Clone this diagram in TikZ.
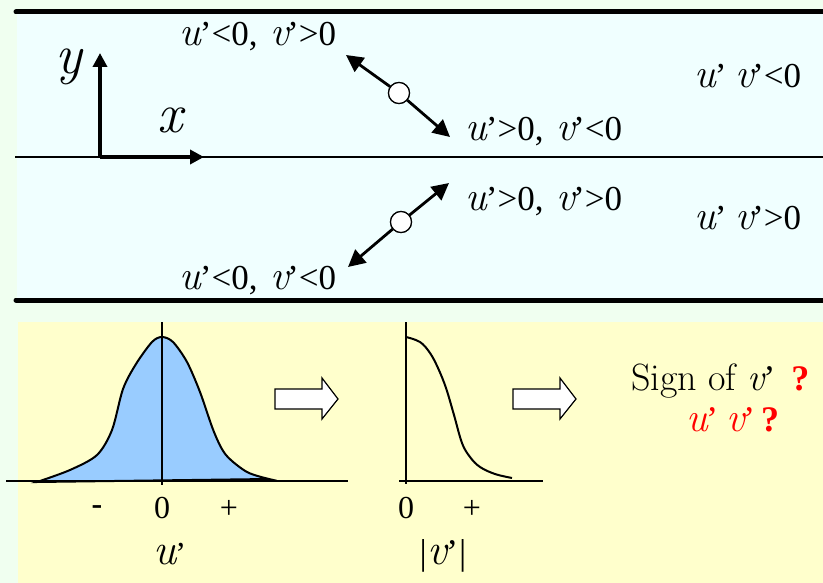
\documentclass[tikz,border=0pt]{standalone}
\usepackage{fontspec}
\newfontfamily\tms{Liberation Serif}
\usetikzlibrary{arrows.meta}
\definecolor{bggreen}{HTML}{F0FFF0}
\definecolor{bgcyan}{HTML}{F0FFFF}
\definecolor{bgyellow}{HTML}{FFFFCC}
\definecolor{bellblue}{HTML}{99CCFF}
\newcommand\wu[1][41]{{\fontsize{#1}{#1}\selectfont\normalfont\itshape u}\kern-1.5pt’}
\newcommand\wv[1][41]{{\fontsize{#1}{#1}\selectfont\normalfont\itshape v}\kern-1.5pt’}
\tikzset{
  lab/.style={font=\tms\fontsize{35}{38}\selectfont, inner sep=0pt, anchor=base},
  ticklab/.style={font=\tms\fontsize{32}{36}\selectfont, inner sep=0pt, anchor=base},
  axisarrow/.style={line width=3.5pt, -{Triangle[length=14pt,width=14pt]}},
  diagarrow/.style={line width=2.8pt, -{Triangle[length=17pt,width=17pt]}},
  particle/.style={circle, draw, fill=white, line width=1.2pt, minimum size=21pt, inner sep=0pt},
  wall/.style={line width=5pt, line cap=round},
  blockarrow/.style={draw, fill=white, line width=1.2pt, line join=miter},
}
\begin{document}
\begin{tikzpicture}[x=1pt,y=-1pt]
\useasboundingbox (0,0) rectangle (823,583);
\fill[bggreen] (0,0) rectangle (823,583);
\fill[bgcyan] (17,11) rectangle (823,301);
\fill[bgyellow] (18,322) rectangle (823,583);
% walls
\draw[wall] (16,12) -- (823,12);
\draw[wall] (16,300) -- (823,300);
\draw[line width=1.3pt] (15,157) -- (823,157);
% axes
\coordinate (O) at (100,157);
\coordinate (ytip) at (100,53);
\coordinate (xtip) at (204,157);
\draw[axisarrow] (O) -- (ytip);
\draw[axisarrow] (O) -- (xtip);
\node[font=\fontsize{56}{60}\selectfont\itshape, inner sep=0pt] (ylab) at (69,67) {y};
\node[font=\fontsize{56}{60}\selectfont\itshape, inner sep=0pt] (xlab) at (170,120) {x};
% upper particle
\node[particle] (p1) at (399,93) {};
\coordinate (p1a) at (346,55);
\coordinate (p1b) at (450,137);
\draw[diagarrow] (p1) -- (p1a);
\draw[diagarrow] (p1) -- (p1b);
\node[particle] at (p1) {};
% lower particle
\node[particle] (p2) at (401,222) {};
\coordinate (p2a) at (449,183);
\coordinate (p2b) at (348,267);
\draw[diagarrow] (p2) -- (p2a);
\draw[diagarrow] (p2) -- (p2b);
\node[particle] at (p2) {};
% labels
\node[lab] (l1) at (258,46) {\wu{}<0,\hspace{4pt} \wv{}>0};
\node[lab] (l2) at (544,141) {\wu{}>0,\hspace{4pt} \wv{}<0};
\node[lab] (l3) at (544,211) {\wu{}>0,\hspace{4pt} \wv{}>0};
\node[lab] (l4) at (258,290) {\wu{}<0,\hspace{4pt} \wv{}<0};
\node[lab] (l5) at (748,88) {\wu{} \wv{}<0};
\node[lab] (l6) at (748,230) {\wu{} \wv{}>0};
% bottom: graph 1
\def\bell{(37,482) (70,470) (97,455) (112,430) (123,389) (136,364) (152,342) (162,337) (173,342) (187,362) (200,392) (214,432) (226,455) (247,472) (269,479)}
\fill[bellblue] plot[smooth, tension=0.5] coordinates {\bell} -- cycle;
\draw[line width=2pt] plot[smooth, tension=0.5] coordinates {\bell} -- cycle;
\coordinate (g1l) at (6,481);
\coordinate (g1r) at (348,481);
\coordinate (g1t) at (162,322);
\coordinate (g1b) at (162,485);
\draw[line width=1.2pt] (g1l) -- (g1r);
\draw[line width=1.2pt] (g1t) -- (g1b);
\node[font=\tms\bfseries\fontsize{32}{36}\selectfont, inner sep=0pt] (m1) at (97,510) {-};
\node[ticklab] (z1) at (162,518) {0};
\node[ticklab] (pl1) at (229,518) {+};
\node[ticklab] (ulab) at (170,564) {\wu[44]};
% block arrow 1
\draw[blockarrow] (275,389) -- (322,389) -- (322,378) -- (338,399) -- (322,419) -- (322,409) -- (275,409) -- cycle;
% graph 2
\coordinate (g2l) at (399,481);
\coordinate (g2r) at (543,481);
\coordinate (g2t) at (406,322);
\coordinate (g2b) at (406,484);
\draw[line width=1.2pt] (g2l) -- (g2r);
\draw[line width=1.2pt] (g2t) -- (g2b);
\draw[line width=2pt] plot[smooth, tension=0.6] coordinates {(406,337) (420,342) (430,353) (438,368) (446,388) (454,415) (462,443) (470,457) (480,467) (495,474) (512,478)};
\node[ticklab] (z2) at (406,518) {0};
\node[ticklab] (pl2) at (472,518) {+};
\node[ticklab, font=\tms\fontsize{36}{40}\selectfont] (vlab) at (443,564) {|\kern1pt\wv[44]\kern1pt|};
% block arrow 2
\draw[blockarrow] (513,389) -- (560,389) -- (560,378) -- (576,399) -- (560,419) -- (560,409) -- (513,409) -- cycle;
% question
\node[font=\fontsize{38}{38}\selectfont, inner sep=0pt, anchor=base west] (q1) at (631,390)
  {Sign of {\tms\fontsize{36}{36}\selectfont\wv[38]\hspace{16pt}{\color{red}\bfseries ?}}};
\node[font=\tms\fontsize{36}{36}\selectfont, text=red, inner sep=0pt, anchor=base west] (q2) at (686,431)
  {\wu[41]\hspace{8pt}\wv[41]\hspace{6pt}{\bfseries ?}};
\end{tikzpicture}
\end{document}
